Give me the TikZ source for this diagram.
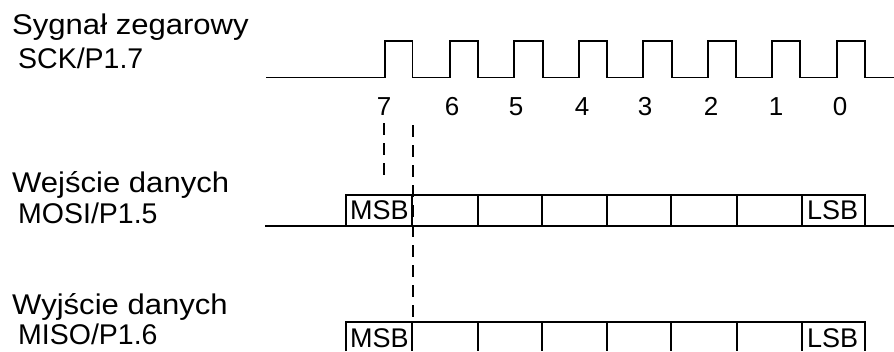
\documentclass[tikz,border=0pt]{standalone}
\usepackage{graphicx}
\usepackage{fontspec}
\setmainfont{Liberation Sans}
\newcommand{\widetxt}[1]{\scalebox{1.09}[1]{#1}}
\begin{document}
\begin{tikzpicture}[x=1pt,y=-1pt,
  lbl/.style={anchor=base west,inner sep=0pt,font=\fontsize{28.5}{30}\selectfont},
  digit/.style={anchor=base,inner sep=0pt,font=\fontsize{26}{28}\selectfont},
  bit/.style={anchor=base west,inner sep=0pt,text depth=0pt,font=\fontsize{27}{29}\selectfont},
  sig/.style={line width=1.6pt,line join=miter},
  guide/.style={line width=1.4pt,dash pattern=on 12pt off 8pt}]
\useasboundingbox (0,0) rectangle (894,351);
% labels
\node[lbl] (sck1) at (12,34) {\widetxt{Sygnał zegarowy}};
\node[lbl] (sck2) at (18,68) {SCK/P1.7};
\node[lbl] (mosi1) at (12,192) {\widetxt{Wejście danych}};
\node[lbl] (mosi2) at (18,223) {MOSI/P1.5};
\node[lbl] (miso1) at (12,314) {\widetxt{Wyjście danych}};
\node[lbl] (miso2) at (18,344) {MISO/P1.6};
% clock
\draw[sig] (266,77.5)
  \foreach \r/\f in {385/412.5,450/478,514/543,579/607,643/672,708/736,772/800,837/865}
  { -- (\r,77.5) -- (\r,41) -- (\f,41) -- (\f,77.5) } -- (894,77.5);
% bit numbers
\foreach \n/\x in {7/384,6/452,5/516,4/582,3/645,2/711,1/776,0/840}
  \node[digit] (d\n) at (\x,115) {\n};
% MOSI frame
\draw[sig] (265,226) -- (894,226);
\draw[sig] (346,226) |- (865,195) -- (865,226);
\foreach \x in {412,478,542,607,671,737,802}
  \draw[sig] (\x,195) -- (\x,226);
\node[bit] (mosimsb) at (350,219) {MSB};
\node[bit] (mosilsb) at (807,219) {LSB};
% MISO frame
\draw[sig] (346,351) |- (865,322) -- (865,351);
\foreach \x in {412,478,542,607,671,737,802}
  \draw[sig] (\x,322) -- (\x,351);
\node[bit] (misomsb) at (350,347) {MSB};
\node[bit] (misolsb) at (807,347) {LSB};
% guides
\coordinate (g1a) at (384,123);
\coordinate (g1b) at (384,178);
\coordinate (g2a) at (413,125);
\coordinate (g2b) at (413,322);
\draw[guide] (g1a) -- (g1b);
\draw[guide] (g2a) -- (g2b);
\end{tikzpicture}
\end{document}
